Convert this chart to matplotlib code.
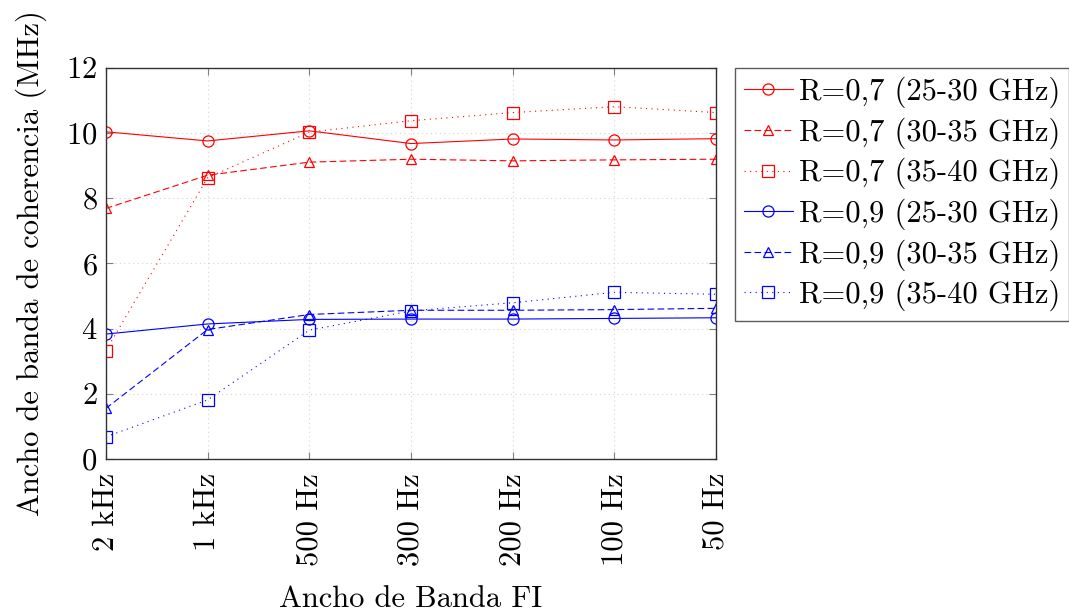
import numpy as np
import matplotlib
matplotlib.use("Agg")
import matplotlib.pyplot as plt

plt.rcParams['font.family'] = 'serif'
plt.rcParams['font.serif'] = ['cmr10']
plt.rcParams['mathtext.fontset'] = 'cm'
plt.rcParams['axes.formatter.use_mathtext'] = True

# data
categories = ['2 kHz', '1 kHz', '500 Hz', '300 Hz', '200 Hz', '100 Hz', '50 Hz']
r07_25_30 = [10.03, 9.75, 10.06, 9.67, 9.81, 9.78, 9.82]
r07_30_35 = [7.68, 8.70, 9.10, 9.19, 9.14, 9.17, 9.19]
r07_35_40 = [3.32, 8.62, 10.02, 10.37, 10.62, 10.80, 10.62]
r09_25_30 = [3.83, 4.14, 4.28, 4.29, 4.29, 4.31, 4.33]
r09_30_35 = [1.55, 3.97, 4.43, 4.56, 4.56, 4.58, 4.62]
r09_35_40 = [0.68, 1.81, 3.95, 4.54, 4.79, 5.11, 5.05]

labels = ['R=0,7 (25-30 GHz)', 'R=0,7 (30-35 GHz)', 'R=0,7 (35-40 GHz)',
          'R=0,9 (25-30 GHz)', 'R=0,9 (30-35 GHz)', 'R=0,9 (35-40 GHz)']

FS = 22

fig = plt.figure(figsize=(10.69, 6.14), dpi=100)
ax = fig.add_axes([0.099, 0.2524, 0.571, 0.6376])

x = np.arange(len(categories))
series = [r07_25_30, r07_30_35, r07_35_40, r09_25_30, r09_30_35, r09_35_40]
colors = ['red'] * 3 + ['blue'] * 3
styles = ['-', (0, (6, 3)), (0, (1, 4))] * 2
markers = ['o', '^', 's'] * 2
msizes = [8, 6.5, 8] * 2

for y, lab, c, ls, m, ms in zip(series, labels, colors, styles, markers, msizes):
    ax.plot(x, y, color=c, linestyle=ls, linewidth=0.8, marker=m,
            markersize=ms, markerfacecolor='none', markeredgecolor=c,
            markeredgewidth=0.9, label=lab)

ax.set_xlim(0, len(categories) - 1)
ax.set_ylim(0, 12)
ax.set_xticks(x)
ax.set_xticklabels(categories, rotation=90, fontsize=FS)
ax.set_yticks(np.arange(0, 13, 2))
ax.tick_params(axis='y', labelsize=FS, pad=6)
ax.tick_params(axis='x', pad=10)
ax.tick_params(direction='in', top=True, right=True, length=5, color='gray')
ax.grid(True, linestyle=(0, (1, 3)), color='lightgray', linewidth=0.8)
for sp in ax.spines.values():
    sp.set_linewidth(1.0)
    sp.set_color('#333333')

ax.set_ylabel('Ancho de banda de coherencia (MHz)', fontsize=FS, labelpad=14)
ax.set_xlabel('Ancho de Banda FI', fontsize=FS, labelpad=14)

leg = ax.legend(loc='upper left', bbox_to_anchor=(1.03, 1.0), fontsize=FS,
                frameon=True, fancybox=False, handlelength=1.6,
                handletextpad=0.2, borderpad=0.3, labelspacing=0.3,
                borderaxespad=0.0)
leg.get_frame().set_edgecolor('#333333')
leg.get_frame().set_linewidth(1.0)

fig.savefig('out.png', dpi=100)
